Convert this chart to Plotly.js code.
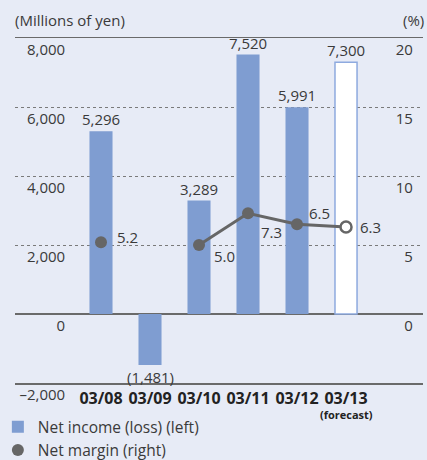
<!DOCTYPE html>
<html>
<head>
<meta charset="utf-8">
<script src="https://cdn.plot.ly/plotly-3.0.1.min.js"></script>
<style>html,body{margin:0;padding:0;background:#e7ebf6;}#chart{width:427px;height:460px;}</style>
</head>
<body>
<div id="chart"></div>
<script>
// ---- data ----
const categories = ['03/08', '03/09', '03/10', '03/11', '03/12', '03/13'];
const netIncome = [5296, -1481, 3289, 7520, 5991, 7300];   // last = forecast
const netMargin = [5.2, null, 5.0, 7.3, 6.5, 6.3];          // last = forecast
const leftTickVals = [-2000, 0, 2000, 4000, 6000, 8000];
const leftTickText = ['\u20132,000', '0', '2,000', '4,000', '6,000', '8,000'];
const rightTickVals = [0, 5, 10, 15, 20];
const rightTickText = ['0', '5', '10', '15', '20'];
const forecastIndex = 5;

const BLUE = '#7f9dd1';
const GRAY = '#666666';
const FONT = '"Open Sans", "Noto Sans", sans-serif';
const TXT = '#3a3a3a';

const actualCats = categories.slice(0, forecastIndex);
const actualVals = netIncome.slice(0, forecastIndex);

const fmt = v => {
  const s = Math.abs(v).toLocaleString('en-US');
  return v < 0 ? '(' + s + ')' : s;
};

const traces = [
  {
    type: 'bar', x: actualCats, y: actualVals, width: 0.47,
    marker: {color: BLUE, line: {width: 0}},
    name: 'Net income (loss) (left)', hoverinfo: 'skip'
  },
  {
    type: 'bar', x: [categories[forecastIndex]], y: [netIncome[forecastIndex]], width: 0.45,
    marker: {color: '#ffffff', line: {color: '#8eaadf', width: 1.5}},
    showlegend: false, hoverinfo: 'skip'
  },
  {
    type: 'scatter', mode: 'lines', x: categories, y: netMargin, yaxis: 'y2',
    line: {color: GRAY, width: 3}, connectgaps: false, showlegend: false, hoverinfo: 'skip'
  },
  {
    type: 'scatter', mode: 'markers', x: categories.slice(0, forecastIndex),
    y: netMargin.slice(0, forecastIndex), yaxis: 'y2',
    marker: {color: GRAY, size: 12, line: {width: 0}},
    name: 'Net margin (right)', hoverinfo: 'skip'
  },
  {
    type: 'scatter', mode: 'markers', x: [categories[forecastIndex]],
    y: [netMargin[forecastIndex]], yaxis: 'y2',
    marker: {color: '#ffffff', size: 11, line: {color: GRAY, width: 2.5}},
    showlegend: false, hoverinfo: 'skip'
  },
  // carrier for the left label axis
  {type: 'scatter', x: [categories[0]], y: [null], yaxis: 'y3', showlegend: false, hoverinfo: 'skip'}
];

const annotations = [];
// bar value labels
netIncome.forEach((v, i) => {
  annotations.push({
    x: categories[i], y: v, xref: 'x', yref: 'y', text: fmt(v), showarrow: false,
    yanchor: v < 0 ? 'top' : 'bottom',
    font: {family: FONT, size: 15, color: TXT}
  });
});
// net margin labels
const mShiftX = [26, 0, 25, 23, 22, 24];
const mShiftY = [5, 0, -11, -19, 11, 0];
netMargin.forEach((v, i) => {
  if (v === null) return;
  annotations.push({
    x: categories[i], y: v, xref: 'x', yref: 'y2', text: v.toFixed(1), showarrow: false,
    xshift: mShiftX[i], yshift: mShiftY[i],
    font: {family: FONT, size: 15, color: TXT}
  });
});
annotations.push({
  x: categories[forecastIndex], y: -0.091, xref: 'x', yref: 'paper', text: '(forecast)',
  showarrow: false, yanchor: 'middle', font: {family: FONT, size: 11, color: '#222', weight: 'bold'}
});
annotations.push({
  x: 0, y: 1.052, xref: 'paper', yref: 'paper', text: '(Millions of yen)', showarrow: false,
  xanchor: 'left', yanchor: 'middle', xshift: -2, font: {family: FONT, size: 15, color: TXT}
});
annotations.push({
  x: 1.0074, y: 1.052, xref: 'paper', yref: 'paper', text: '(%)', showarrow: false,
  xanchor: 'right', yanchor: 'middle', font: {family: FONT, size: 15, color: TXT}
});

const layout = {
  width: 427, height: 460,
  margin: {l: 15, r: 4, t: 38, b: 77, autoexpand: false},
  paper_bgcolor: '#e7ebf6', plot_bgcolor: '#e7ebf6',
  barmode: 'overlay',
  font: {family: FONT, size: 15, color: TXT},
  showlegend: true,
  legend: {
    x: -0.042, y: -0.079, xanchor: 'left', yanchor: 'top', orientation: 'v',
    bgcolor: 'rgba(0,0,0,0)', font: {family: FONT, size: 15.5, color: TXT},
    tracegroupgap: 0, itemclick: false
  },
  xaxis: {
    type: 'category', range: [-1.755, 6.571], showgrid: false, zeroline: false,
    showline: true, mirror: true, linecolor: '#6a6a6a', linewidth: 1.5,
    ticks: '', tickfont: {family: FONT, size: 16, color: '#222', weight: 'bold'},
    automargin: false, fixedrange: true
  },
  yaxis: {
    range: [-2000, 8000], tickvals: [2000, 4000, 6000], showticklabels: false,
    showgrid: true, gridcolor: '#7a7a7a', griddash: 'dot', gridwidth: 1,
    zeroline: true, zerolinecolor: '#6a6a6a', zerolinewidth: 1.5,
    showline: false, ticks: '', automargin: false, fixedrange: true
  },
  yaxis3: {
    overlaying: 'y', anchor: 'free', side: 'left', position: 0.123,
    range: [-2000, 8000], tickvals: leftTickVals, ticktext: leftTickText,
    showgrid: false, zeroline: false, showline: false, ticks: '',
    ticklabelshift: 12, tickfont: {family: FONT, size: 15, color: TXT},
    automargin: false, fixedrange: true
  },
  yaxis2: {
    overlaying: 'y', anchor: 'free', side: 'left', position: 0.975,
    range: [-5, 20], tickvals: rightTickVals, ticktext: rightTickText,
    showgrid: false, zeroline: false, showline: false, ticks: '',
    ticklabelshift: 12, tickfont: {family: FONT, size: 15, color: TXT},
    automargin: false, fixedrange: true
  },
  annotations: annotations
};

Plotly.newPlot('chart', traces, layout, {displayModeBar: false, staticPlot: true});
</script>
</body>
</html>
